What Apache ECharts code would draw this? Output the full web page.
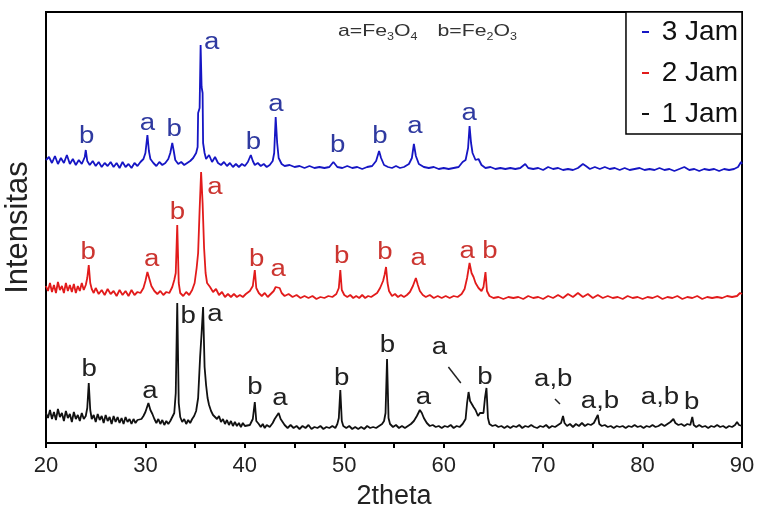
<!DOCTYPE html>
<html>
<head>
<meta charset="utf-8">
<style>
  html, body { margin: 0; padding: 0; background: #fff; }
  #chart { width: 759px; height: 508px; }
</style>
<script src="https://cdn.jsdelivr.net/npm/echarts@6/dist/echarts.min.js"></script>
</head>
<body>
<div id="chart"></div>
<script>
// XRD patterns, 2theta vs. stacked intensity (arbitrary units, traces offset)
const seriesNames = ["3 Jam", "2 Jam", "1 Jam"];

const jam3 = [
  [20.0,283],[20.3,286],[20.6,280],[20.9,287],[21.2,279],[21.5,285],[21.8,280],[22.1,288],[22.4,279],[22.7,284],
  [23.0,278],[23.3,283],[23.6,279],[23.9,286],[24.0,293],[24.15,282],[24.4,278],[24.7,282],[25.0,277],[25.3,281],
  [25.6,276],[25.9,280],[26.2,277],[26.5,281],[26.8,276],[27.1,280],[27.4,275],[27.7,281],[28.0,276],[28.3,279],
  [28.6,275],[28.9,280],[29.2,277],[29.5,281],[29.8,284],[30.0,290],[30.2,308],[30.35,292],[30.5,284],[30.8,280],
  [31.1,277],[31.4,281],[31.7,278],[32.0,280],[32.3,284],[32.5,290],[32.7,300],[32.85,292],[33.0,283],[33.3,279],
  [33.6,281],[33.9,278],[34.2,280],[34.5,282],[34.8,285],[35.1,290],[35.25,296],[35.3,330],[35.45,335],[35.55,398],
  [35.65,356],[35.75,350],[35.8,300],[35.95,290],[36.1,284],[36.4,288],[36.7,281],[37.0,286],[37.3,280],[37.6,278],
  [37.9,281],[38.2,277],[38.5,280],[38.8,276],[39.1,279],[39.4,276],[39.7,279],[40.0,277],[40.3,281],[40.6,288],
  [40.8,282],[41.0,278],[41.3,280],[41.6,277],[41.9,279],[42.2,276],[42.5,278],[42.8,282],[42.95,290],[43.1,326],
  [43.25,300],[43.4,285],[43.7,279],[44.0,277],[44.5,278],[45.0,276],[45.5,277],[46.0,275],[46.5,277],[47.0,275],
  [47.5,276],[48.0,275],[48.5,276],[48.9,281],[49.3,276],[49.8,275],[50.3,277],[50.8,275],[51.3,276],[51.8,274],
  [52.3,276],[52.8,277],[53.2,282],[53.5,292],[53.7,285],[54.0,278],[54.4,276],[54.8,275],[55.2,277],[55.6,275],
  [56.0,276],[56.5,279],[56.8,285],[57.0,299],[57.2,287],[57.5,279],[58.0,276],[58.5,275],[59.0,276],[59.5,274],
  [60.0,275],[60.5,274],[61.0,275],[61.5,276],[61.9,281],[62.2,283],[62.45,295],[62.6,317],[62.75,300],[62.9,290],
  [63.2,283],[63.5,284],[63.8,278],[64.2,275],[64.7,276],[65.2,274],[65.7,275],[66.2,274],[66.7,275],[67.2,274],
  [67.7,275],[68.2,279],[68.5,275],[69.0,274],[69.5,275],[70.0,273],[70.5,276],[71.0,274],[71.5,275],[72.0,273],
  [72.5,274],[73.0,273],[73.5,275],[74.0,279],[74.3,277],[74.7,274],[75.2,276],[75.7,274],[76.2,276],[76.7,274],
  [77.2,275],[77.7,273],[78.2,275],[78.7,273],[79.2,274],[79.7,275],[80.2,273],[80.7,274],[81.2,273],[81.7,275],
  [82.2,273],[82.7,274],[83.2,272],[83.7,274],[84.2,276],[84.7,273],[85.2,274],[85.7,272],[86.2,274],[86.7,273],
  [87.2,274],[87.7,272],[88.2,274],[88.7,273],[89.2,274],[89.6,276],[89.9,281],[90.0,279]
];

const jam2 = [
  [20.0,157],[20.2,152],[20.4,160],[20.6,151],[20.8,158],[21.0,150],[21.2,161],[21.4,153],[21.6,157],[21.8,150],
  [22.0,160],[22.2,152],[22.4,158],[22.6,151],[22.8,159],[23.0,150],[23.2,157],[23.4,152],[23.6,160],[23.8,153],
  [24.0,158],[24.15,165],[24.3,178],[24.45,160],[24.6,154],[24.8,150],[25.0,155],[25.3,149],[25.6,153],[25.9,148],
  [26.2,154],[26.5,149],[26.8,152],[27.1,147],[27.4,153],[27.7,148],[28.0,152],[28.3,147],[28.6,153],[28.9,148],
  [29.2,151],[29.5,150],[29.8,155],[30.0,162],[30.2,171],[30.4,164],[30.6,157],[30.9,152],[31.2,149],[31.5,152],
  [31.8,148],[32.1,151],[32.4,150],[32.7,156],[32.9,163],[33.05,170],[33.2,218],[33.35,160],[33.5,150],[33.8,147],
  [34.1,151],[34.4,148],[34.7,153],[34.95,160],[35.15,175],[35.3,190],[35.45,233],[35.6,271],[35.75,240],[35.9,195],
  [36.05,170],[36.2,160],[36.5,156],[36.8,151],[37.1,154],[37.4,148],[37.7,151],[38.0,146],[38.3,149],[38.6,146],
  [38.9,149],[39.2,146],[39.5,148],[39.8,146],[40.1,149],[40.5,152],[40.8,157],[41.0,173],[41.15,155],[41.4,150],
  [41.7,147],[42.0,150],[42.3,146],[42.6,149],[42.9,152],[43.1,156],[43.3,158],[43.5,155],[43.7,150],[44.0,147],
  [44.4,149],[44.8,146],[45.2,148],[45.6,145],[46.0,147],[46.4,145],[46.8,147],[47.2,144],[47.6,146],[48.0,145],
  [48.4,147],[48.8,146],[49.2,149],[49.45,155],[49.6,173],[49.75,153],[50.0,148],[50.3,146],[50.6,148],[50.9,145],
  [51.2,147],[51.5,145],[51.8,148],[52.1,145],[52.4,147],[52.7,146],[53.0,148],[53.3,150],[53.6,155],[53.9,162],
  [54.05,168],[54.2,176],[54.35,160],[54.5,152],[54.8,147],[55.1,149],[55.4,146],[55.7,148],[56.0,146],[56.3,148],
  [56.6,151],[56.9,157],[57.2,165],[57.4,158],[57.6,152],[57.9,148],[58.2,146],[58.6,148],[59.0,145],[59.4,147],
  [59.8,145],[60.2,147],[60.6,145],[61.0,147],[61.4,146],[61.8,149],[62.1,154],[62.35,165],[62.6,180],[62.8,170],
  [63.0,166],[63.2,160],[63.5,155],[63.8,152],[64.0,156],[64.2,171],[64.35,152],[64.6,147],[65.0,145],[65.5,146],
  [66.0,144],[66.5,146],[67.0,145],[67.5,146],[68.0,144],[68.5,147],[69.0,145],[69.5,146],[70.0,144],[70.5,147],
  [71.0,145],[71.5,148],[72.0,145],[72.5,149],[73.0,146],[73.5,150],[74.0,146],[74.5,149],[75.0,145],[75.5,148],
  [76.0,145],[76.5,147],[77.0,145],[77.5,146],[78.0,144],[78.5,147],[79.0,145],[79.5,146],[80.0,144],[80.5,146],
  [81.0,145],[81.5,147],[82.0,144],[82.5,146],[83.0,145],[83.5,147],[84.0,144],[84.5,146],[85.0,145],[85.5,147],
  [86.0,144],[86.5,146],[87.0,145],[87.5,146],[88.0,145],[88.5,147],[89.0,146],[89.5,147],[89.8,150],[90.0,149]
];

const jam1 = [
  [20.0,30],[20.2,25],[20.4,33],[20.6,24],[20.8,31],[21.0,23],[21.2,34],[21.4,26],[21.6,30],[21.8,22],
  [22.0,32],[22.2,25],[22.4,29],[22.6,21],[22.8,31],[23.0,24],[23.2,28],[23.4,22],[23.6,30],[23.8,24],
  [24.0,27],[24.15,35],[24.3,60],[24.45,33],[24.6,24],[24.8,28],[25.0,21],[25.2,29],[25.4,23],[25.6,27],
  [25.8,20],[26.0,28],[26.2,22],[26.4,26],[26.6,19],[26.8,27],[27.0,21],[27.2,26],[27.4,20],[27.6,25],
  [27.8,19],[28.0,26],[28.2,21],[28.4,24],[28.6,19],[28.8,24],[29.0,20],[29.2,23],[29.4,21],[29.6,24],
  [29.8,27],[30.0,31],[30.3,40],[30.5,33],[30.7,29],[30.9,24],[31.1,20],[31.3,24],[31.5,19],[31.7,23],
  [31.9,18],[32.1,22],[32.3,19],[32.5,22],[32.7,24],[32.9,30],[33.05,50],[33.2,140],[33.35,40],[33.5,26],
  [33.7,21],[33.9,24],[34.1,19],[34.3,23],[34.5,20],[34.7,24],[34.9,27],[35.1,32],[35.3,45],[35.5,86],
  [35.65,110],[35.8,136],[35.95,76],[36.1,58],[36.25,45],[36.4,38],[36.6,32],[36.8,28],[37.0,30],[37.2,24],
  [37.4,27],[37.6,21],[37.8,24],[38.0,19],[38.2,23],[38.4,18],[38.6,22],[38.8,17],[39.0,21],[39.2,17],
  [39.4,20],[39.6,16],[39.8,20],[40.0,17],[40.2,19],[40.5,18],[40.8,24],[41.0,41],[41.15,22],[41.4,19],
  [41.6,16],[41.8,19],[42.0,15],[42.2,18],[42.5,16],[42.8,20],[43.0,24],[43.2,26],[43.4,30],[43.6,24],
  [43.8,21],[44.0,18],[44.3,15],[44.6,18],[44.9,15],[45.2,17],[45.5,14],[45.8,17],[46.1,15],[46.4,18],
  [46.7,14],[47.0,16],[47.3,15],[47.6,17],[47.9,14],[48.2,16],[48.5,15],[48.8,17],[49.1,15],[49.3,19],
  [49.45,25],[49.6,53],[49.75,22],[49.9,17],[50.2,15],[50.5,17],[50.8,14],[51.1,16],[51.4,14],[51.7,16],
  [52.0,14],[52.3,17],[52.6,15],[52.9,16],[53.2,15],[53.5,17],[53.8,19],[54.0,22],[54.15,30],[54.3,84],
  [54.45,25],[54.6,19],[54.9,16],[55.2,18],[55.5,15],[55.8,17],[56.1,15],[56.4,17],[56.7,19],[57.0,22],
  [57.3,27],[57.6,33],[57.8,30],[58.0,25],[58.3,20],[58.6,17],[58.9,18],[59.2,16],[59.5,17],[59.8,15],
  [60.1,17],[60.4,16],[60.7,18],[61.0,15],[61.3,17],[61.6,16],[61.9,19],[62.2,24],[62.35,40],[62.5,51],
  [62.65,42],[62.8,44],[63.0,36],[63.2,33],[63.45,27],[63.65,30],[63.85,28],[64.0,30],[64.15,45],[64.3,55],
  [64.45,25],[64.6,19],[64.9,17],[65.2,18],[65.5,16],[65.8,17],[66.1,15],[66.4,17],[66.7,15],[67.0,17],
  [67.3,16],[67.6,18],[67.9,15],[68.2,17],[68.5,16],[68.8,18],[69.1,16],[69.4,15],[69.7,17],[70.0,16],
  [70.3,18],[70.6,15],[70.9,17],[71.2,16],[71.5,18],[71.8,20],[72.0,27],[72.15,20],[72.4,17],[72.7,19],
  [73.0,16],[73.3,19],[73.6,17],[73.9,20],[74.2,17],[74.5,19],[74.8,18],[75.1,20],[75.3,19],[75.5,28],
  [75.65,19],[75.9,17],[76.2,18],[76.5,16],[76.8,17],[77.1,15],[77.4,17],[77.7,16],[78.0,17],[78.3,15],
  [78.6,17],[78.9,16],[79.2,18],[79.5,16],[79.8,17],[80.1,15],[80.4,17],[80.7,16],[81.0,18],[81.3,16],
  [81.6,17],[81.9,19],[82.2,17],[82.5,19],[82.8,21],[83.1,24],[83.3,20],[83.6,18],[83.9,19],[84.2,17],
  [84.5,19],[84.8,18],[85.0,26],[85.15,18],[85.4,16],[85.7,18],[86.0,16],[86.3,17],[86.6,15],[86.9,17],
  [87.2,16],[87.5,18],[87.8,16],[88.1,17],[88.4,15],[88.7,17],[89.0,16],[89.3,18],[89.5,21],[89.7,18],[90.0,17]
];

// phase markers: [2theta, height, text]
const jam3Marks = [
  [24.09,306,"b"],[30.19,319,"a"],[32.90,313,"b"],[36.66,400,"a"],[40.85,300,"b"],
  [43.13,338,"a"],[49.34,297,"b"],[53.59,306,"b"],[57.11,316,"a"],[62.57,329,"a"]
];
const jam2Marks = [
  [24.25,190,"b"],[30.63,183,"a"],[33.21,230,"b"],[37.00,255,"a"],[41.19,183,"b"],[43.36,173,"a"],
  [49.74,186,"b"],[54.09,190,"b"],[57.44,184,"a"],[62.37,191,"a"],[64.65,191,"b"]
];
const jam1Marks = [
  [24.35,73,"b"],[30.46,51,"a"],[34.31,126,"b"],[37.00,128,"a"],[41.02,55,"b"],[43.53,44,"a"],
  [49.74,64,"b"],[54.33,97,"b"],[57.95,45,"a"],[59.56,95,"a"],[64.15,65,"b"],[71.02,63,"a,b"],
  [75.72,41,"a,b"],[81.75,45,"a,b"],[84.94,40,"b"]
];
const leaderLines = [
  [[60.47,76],[61.72,60]],
  [[71.19,44],[71.69,39]]
];

const lineColors = ["#1616c4", "#e21b1b", "#111111"];
const markColors = ["#2f3aa0", "#cc3530", "#222222"];

const chart = echarts.init(document.getElementById("chart"));

function markSeries(marks, color) {
  return {
    type: "custom",
    data: marks.map(m => [m[0], m[1]]),
    silent: true,
    renderItem: function (params, api) {
      const p = api.coord([api.value(0), api.value(1)]);
      return {
        type: "text",
        x: p[0],
        y: p[1],
        scaleX: 1.2,
        style: {
          text: marks[params.dataIndex][2],
          fill: color,
          fontSize: 23,
          fontFamily: "Liberation Sans, Arial, sans-serif",
          align: "center",
          verticalAlign: "middle"
        }
      };
    }
  };
}

const traces = [jam3, jam2, jam1].map((d, i) => ({
  name: seriesNames[i],
  type: "line",
  data: d,
  symbol: "none",
  lineStyle: { color: lineColors[i], width: 1.8 },
  itemStyle: { color: lineColors[i] },
  z: 2
}));

const leaders = leaderLines.map(seg => ({
  type: "line",
  data: seg,
  symbol: "none",
  silent: true,
  lineStyle: { color: "#222", width: 1.5 }
}));

chart.setOption({
  animation: false,
  graphic: [{
    type: "text",
    x: 338,
    y: 20,
    scaleX: 1.25,
    silent: true,
    style: {
      text: "{n|a=Fe}{s|3}{n|O}{s|4}{g| }{n|b=Fe}{s|2}{n|O}{s|3}",
      align: "left",
      verticalAlign: "top",
      rich: {
        n: { fontSize: 17, fill: "#333", fontFamily: "Liberation Sans", lineHeight: 22, verticalAlign: "middle" },
        s: { fontSize: 10, fill: "#333", fontFamily: "Liberation Sans", lineHeight: 22, verticalAlign: "bottom" },
        g: { width: 16 }
      }
    }
  }],
  legend: {
    data: seriesNames,
    orient: "vertical",
    right: 17,
    top: 12,
    icon: "rect",
    itemWidth: 7,
    itemHeight: 2,
    itemGap: 13,
    padding: [6, 4, 6, 16],
    borderColor: "#000",
    borderWidth: 1.5,
    backgroundColor: "#fff",
    selectedMode: false,
    formatter: n => " " + n,
    textStyle: { fontSize: 28, color: "#111", fontFamily: "Liberation Sans, Arial, sans-serif" }
  },
  grid: {
    left: 46, right: 17, top: 12, bottom: 65,
    outerBoundsMode: "none",
    containLabel: false,
    show: true, borderColor: "#000", borderWidth: 2
  },
  xAxis: {
    type: "value",
    min: 20,
    max: 90,
    interval: 10,
    name: "2theta",
    nameLocation: "middle",
    nameGap: 40,
    nameTextStyle: { fontSize: 27, color: "#222", fontFamily: "Liberation Sans, Arial, sans-serif" },
    axisLine: { lineStyle: { color: "#000", width: 2 } },
    axisTick: { length: 5, lineStyle: { color: "#000", width: 2 } },
    minorTick: { show: true, splitNumber: 2, length: 5, lineStyle: { color: "#000", width: 2 } },
    splitLine: { show: false },
    axisLabel: { fontSize: 22, color: "#222", margin: 12, fontFamily: "Liberation Sans, Arial, sans-serif" }
  },
  yAxis: {
    type: "value",
    min: 0,
    max: 431,
    name: "Intensitas",
    nameLocation: "middle",
    nameRotate: 90,
    nameGap: 12,
    nameTextStyle: { fontSize: 31, color: "#222", fontFamily: "Liberation Sans, Arial, sans-serif" },
    axisLine: { show: true, lineStyle: { color: "#000", width: 2 } },
    axisTick: { show: false },
    axisLabel: { show: false },
    splitLine: { show: false }
  },
  series: [
    ...traces,
    ...leaders,
    markSeries(jam3Marks, markColors[0]),
    markSeries(jam2Marks, markColors[1]),
    markSeries(jam1Marks, markColors[2])
  ]
});

window.addEventListener("resize", () => chart.resize());
</script>
</body>
</html>
